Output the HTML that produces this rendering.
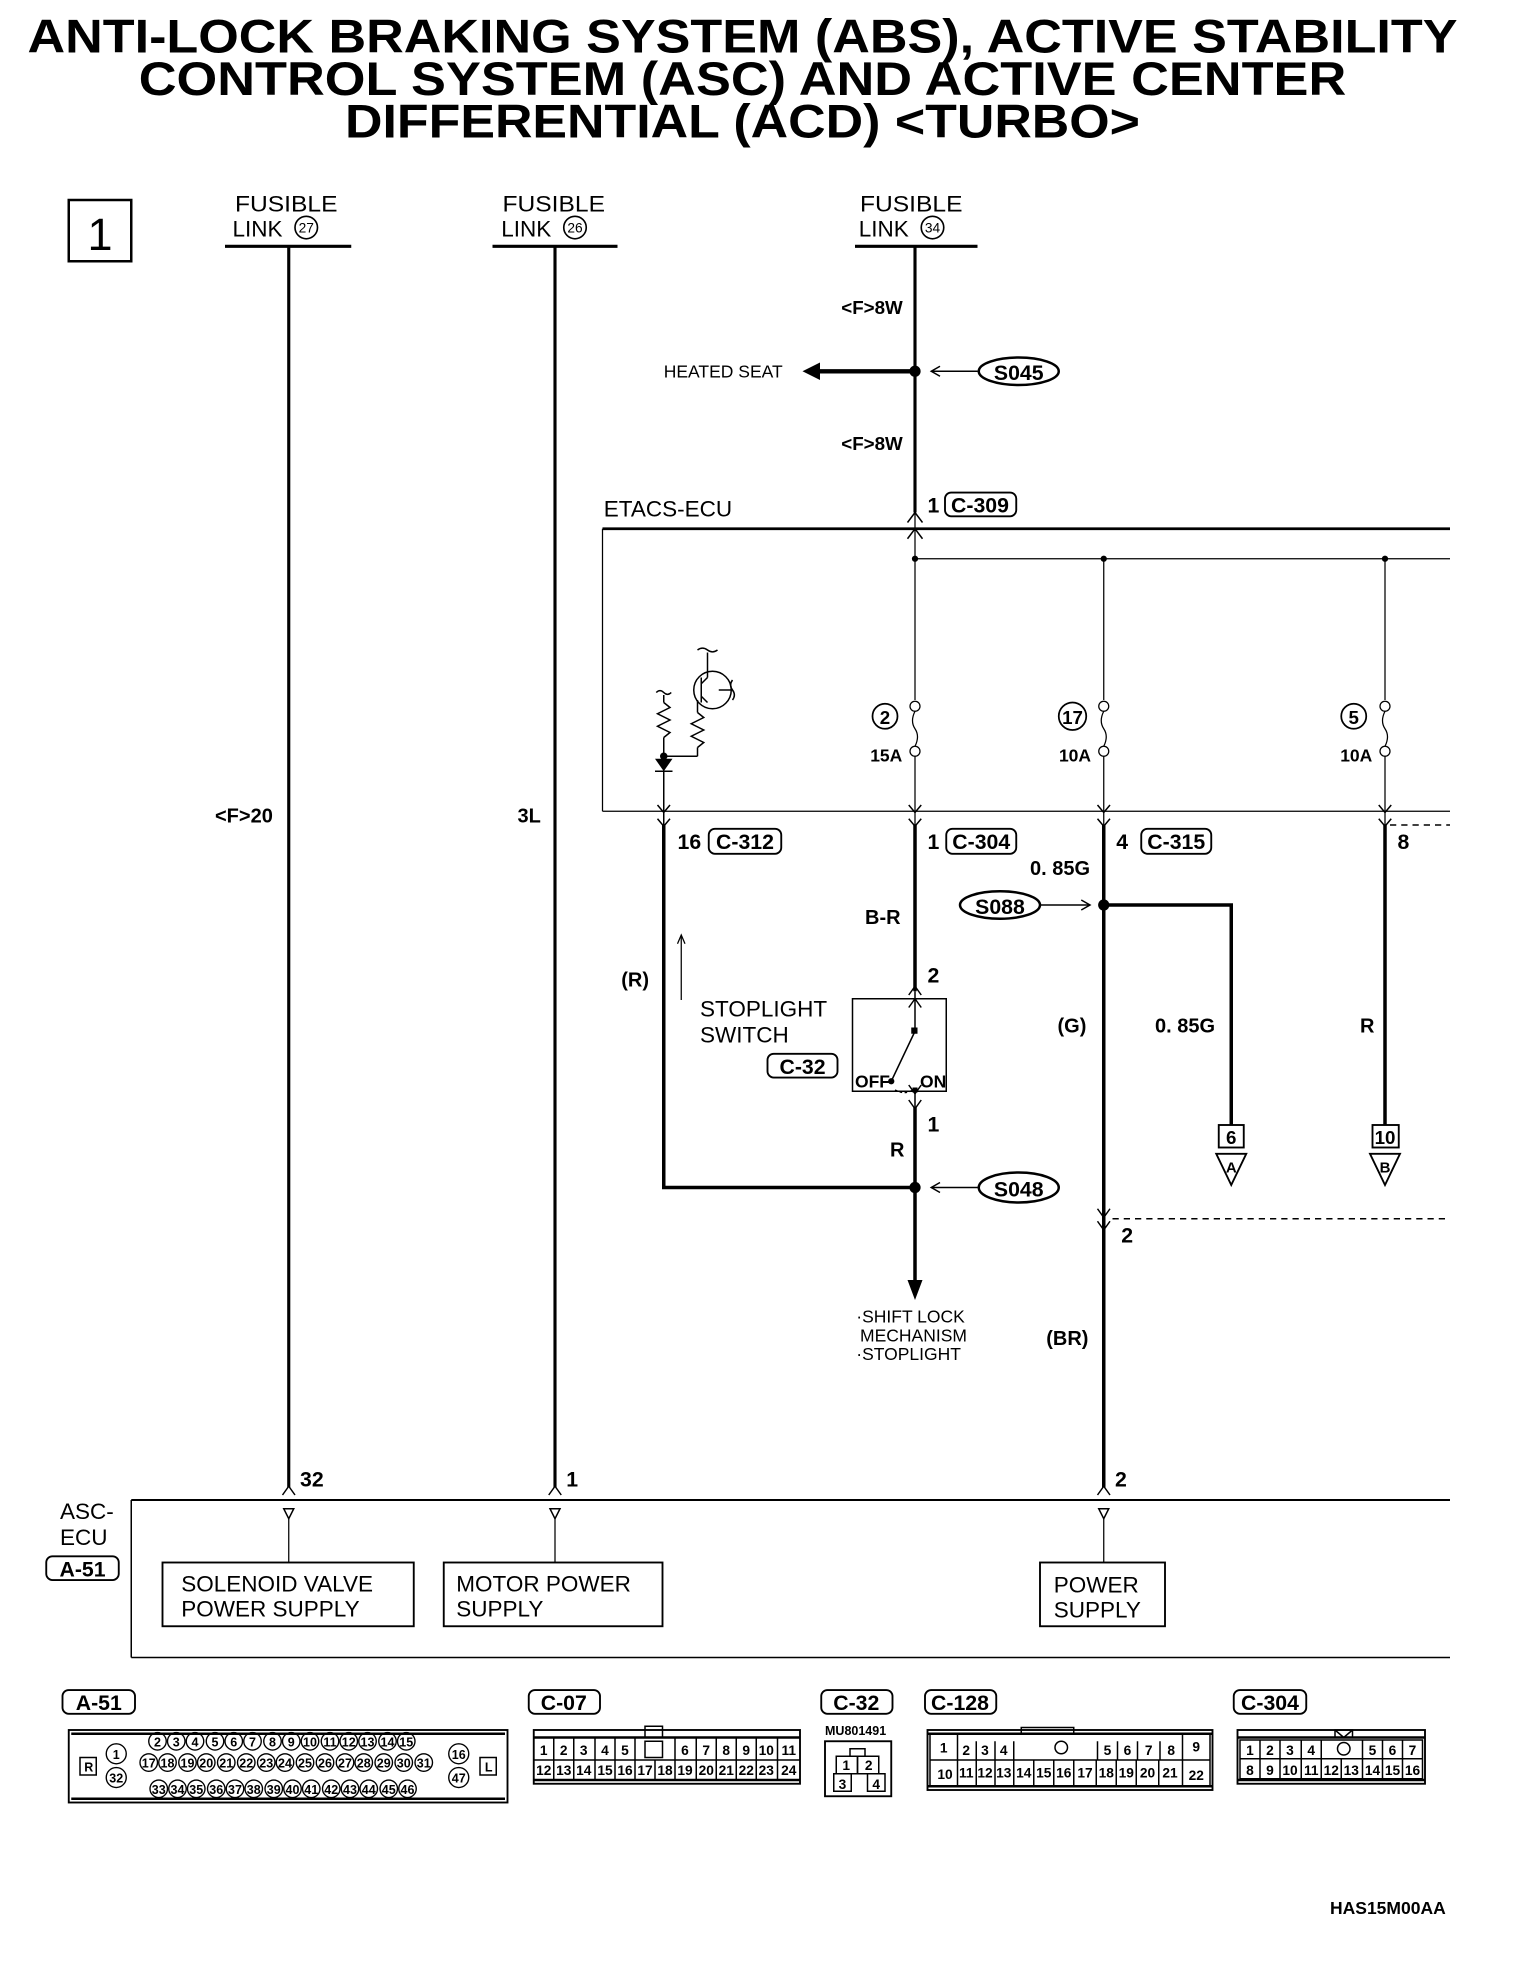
<!DOCTYPE html>
<html><head><meta charset="utf-8">
<style>
html,body{margin:0;padding:0;background:#fff;}
svg{display:block;}
text{font-family:"Liberation Sans",sans-serif;fill:#000;}
.b{font-weight:bold;}
</style></head><body>
<svg width="1520" height="1968" viewBox="0 0 1216 1574.4" xmlns="http://www.w3.org/2000/svg">
<g stroke="#000" fill="none">
<!-- title -->
</g>
<g class="b" font-weight="bold" font-size="38" text-anchor="middle">
<text x="594" y="42" textLength="1144" lengthAdjust="spacingAndGlyphs">ANTI-LOCK BRAKING SYSTEM (ABS), ACTIVE STABILITY</text>
<text x="594" y="76" textLength="966" lengthAdjust="spacingAndGlyphs">CONTROL SYSTEM (ASC) AND ACTIVE CENTER</text>
<text x="594" y="110" textLength="636" lengthAdjust="spacingAndGlyphs">DIFFERENTIAL (ACD) &lt;TURBO&gt;</text>
</g>

<!-- box 1 -->
<rect x="55" y="160" width="50" height="49" fill="none" stroke="#000" stroke-width="2"/>
<text x="80" y="200" font-size="36" text-anchor="middle">1</text>

<!-- fusible links -->
<g font-size="18">
<text x="188" y="169" textLength="82" lengthAdjust="spacingAndGlyphs">FUSIBLE</text>
<text x="186" y="189">LINK</text>
<text x="402" y="169" textLength="82" lengthAdjust="spacingAndGlyphs">FUSIBLE</text>
<text x="401" y="189">LINK</text>
<text x="688" y="169" textLength="82" lengthAdjust="spacingAndGlyphs">FUSIBLE</text>
<text x="687" y="189">LINK</text>
</g>
<g fill="none" stroke="#000" stroke-width="1.3">
<circle cx="245" cy="182" r="9"/><circle cx="460" cy="182" r="9"/><circle cx="746" cy="182" r="9"/>
</g>
<g font-size="11" text-anchor="middle"><text x="245" y="186">27</text><text x="460" y="186">26</text><text x="746" y="186">34</text></g>
<g stroke="#000" stroke-width="2.5">
<line x1="180" y1="197" x2="281" y2="197"/><line x1="394" y1="197" x2="494" y2="197"/><line x1="684" y1="197" x2="782" y2="197"/>
</g>

<!-- vertical wires -->
<g stroke="#000" stroke-width="2.5" fill="none">
<line x1="231" y1="197" x2="231" y2="1190"/>
<line x1="444" y1="197" x2="444" y2="1190"/>
<line x1="732" y1="197" x2="732" y2="410"/>
<line x1="732" y1="297" x2="655" y2="297" stroke-width="3.5"/>
</g>
<polygon points="642,297 656,290 656,304" fill="#000"/>
<circle cx="732" cy="297" r="4.5" fill="#000"/>
<g font-size="15" class="b"><text x="673" y="251" font-weight="bold">&lt;F&gt;8W</text><text x="673" y="360" font-weight="bold">&lt;F&gt;8W</text></g>
<text x="531" y="302" font-size="14">HEATED SEAT</text>
<line x1="782" y1="297" x2="745" y2="297" stroke="#000" stroke-width="1.2"/>
<polyline points="752,293 745,297 752,301" fill="none" stroke="#000" stroke-width="1.2"/>
<ellipse cx="815" cy="297" rx="32" ry="11" fill="none" stroke="#000" stroke-width="2"/>
<text x="815" y="304" font-size="17" text-anchor="middle" font-weight="bold">S045</text>

<!-- ETACS -->
<text x="483" y="413" font-size="18">ETACS-ECU</text>
<text x="742" y="410" font-size="17" font-weight="bold">1</text>
<rect x="756" y="394" width="57" height="19" rx="5" fill="none" stroke="#000" stroke-width="1.5"/>
<text x="784" y="410" font-size="17" text-anchor="middle" font-weight="bold">C-309</text>
<g stroke="#000" fill="none">
<line x1="482" y1="423" x2="1160" y2="423" stroke-width="2.2"/>
<line x1="482" y1="423" x2="482" y2="649" stroke-width="1"/>
<line x1="482" y1="649" x2="1160" y2="649" stroke-width="1"/>
<polyline points="726,418 732,410 738,418" stroke-width="1.2"/>
<polyline points="726,431 732,423 738,431" stroke-width="1.2"/>
<line x1="732" y1="410" x2="732" y2="560" stroke-width="1"/>
<line x1="732" y1="447" x2="1160" y2="447" stroke-width="1"/>
<line x1="883" y1="447" x2="883" y2="560" stroke-width="1"/>
<line x1="1108" y1="447" x2="1108" y2="560" stroke-width="1"/>
</g>
<g fill="#000"><circle cx="732" cy="447" r="2.5"/><circle cx="883" cy="447" r="2.5"/><circle cx="1108" cy="447" r="2.5"/></g>
<!-- fuses -->
<g stroke="#000" fill="none" stroke-width="1">
<g id="f1"><circle cx="732" cy="565" r="4"/><path d="M732,569 q-4,8 0,14 q4,6 0,14"/><circle cx="732" cy="601" r="4"/><line x1="732" y1="605" x2="732" y2="660"/></g>
<circle cx="883" cy="565" r="4"/><path d="M883,569 q-4,8 0,14 q4,6 0,14"/><circle cx="883" cy="601" r="4"/><line x1="883" y1="605" x2="883" y2="660"/>
<circle cx="1108" cy="565" r="4"/><path d="M1108,569 q-4,8 0,14 q4,6 0,14"/><circle cx="1108" cy="601" r="4"/><line x1="1108" y1="605" x2="1108" y2="660"/>
<circle cx="708" cy="573" r="10" stroke-width="1.4"/><circle cx="858" cy="573" r="11" stroke-width="1.4"/><circle cx="1083" cy="573" r="10" stroke-width="1.4"/>
</g>
<g font-size="15" text-anchor="middle" font-weight="bold">
<text x="708" y="579">2</text><text x="858" y="579">17</text><text x="1083" y="579">5</text>
<text x="709" y="609" font-size="14">15A</text><text x="860" y="609" font-size="14">10A</text><text x="1085" y="609" font-size="14">10A</text>
</g>
<!-- internal transistor/resistors -->
<g stroke="#000" fill="none" stroke-width="1.2">
<circle cx="570" cy="552" r="15"/>
<line x1="561" y1="542" x2="561" y2="562"/>
<line x1="561" y1="547" x2="566" y2="542"/>
<line x1="561" y1="557" x2="566" y2="562"/>
<line x1="566" y1="542" x2="566" y2="522"/>
<path d="M558,520 q4,-3 8,0 q4,3 8,0"/>
<line x1="575" y1="552" x2="586" y2="552"/>
<path d="M586,544 q-3,4 0,8 q3,4 0,8"/>
<line x1="558" y1="560" x2="558" y2="570"/>
<polyline points="558,570 563,574 553,579 563,584 553,589 563,594 558,598"/>
<line x1="558" y1="598" x2="558" y2="605"/>
<line x1="558" y1="605" x2="531" y2="605"/>
<path d="M525,554 q3,-3 6,0 q3,3 6,0"/>
<line x1="531" y1="556" x2="531" y2="562"/>
<polyline points="531,562 536,566 526,571 536,576 526,581 536,586 531,590"/>
<line x1="531" y1="590" x2="531" y2="660"/>
<line x1="524" y1="617" x2="538" y2="617"/>
</g>
<circle cx="531" cy="605" r="3" fill="#000"/>
<polygon points="524,607 538,607 531,617" fill="#000"/>
<!-- bottom connector chevrons at y 649/660 -->
<g stroke="#000" fill="none" stroke-width="1.2">
<polyline points="526,644 531,650 536,644"/><polyline points="526,655 531,661 536,655"/>
<polyline points="727,644 732,650 737,644"/><polyline points="727,655 732,661 737,655"/>
<polyline points="878,644 883,650 888,644"/><polyline points="878,655 883,661 888,655"/>
<polyline points="1103,644 1108,650 1113,644"/><polyline points="1103,655 1108,661 1113,655"/>
</g>
<line x1="1112" y1="660" x2="1160" y2="660" stroke="#000" stroke-width="1.2" stroke-dasharray="5,4"/>
<!-- wires lower -->
<g stroke="#000" fill="none" stroke-width="2.8">
<polyline points="531,660 531,950 732,950"/>
<line x1="732" y1="660" x2="732" y2="793"/>
<line x1="732" y1="886" x2="732" y2="1025"/>
<polyline points="883,660 883,1190"/>
<polyline points="883,724 985,724 985,900"/>
<line x1="1108" y1="660" x2="1108" y2="900"/>
</g>
<polygon points="726,1024 738,1024 732,1040" fill="#000"/>
<circle cx="732" cy="950" r="4.5" fill="#000"/>
<circle cx="883" cy="724" r="4.5" fill="#000"/>
<g font-size="17" font-weight="bold">
<text x="542" y="679">16</text><text x="742" y="679">1</text><text x="893" y="679">4</text><text x="1118" y="679">8</text>
</g>
<g fill="none" stroke="#000" stroke-width="1.5">
<rect x="567" y="663" width="58" height="20" rx="5"/><rect x="757" y="663" width="56" height="20" rx="5"/><rect x="913" y="663" width="56" height="20" rx="5"/>
</g>
<g font-size="17" text-anchor="middle" font-weight="bold">
<text x="596" y="679">C-312</text><text x="785" y="679">C-304</text><text x="941" y="679">C-315</text>
</g>
<text x="824" y="700" font-size="16" font-weight="bold">0. 85G</text>
<ellipse cx="800" cy="724" rx="32" ry="11" fill="none" stroke="#000" stroke-width="2"/>
<text x="800" y="731" font-size="17" text-anchor="middle" font-weight="bold">S088</text>
<line x1="832" y1="724" x2="872" y2="724" stroke="#000" stroke-width="1.2"/>
<polyline points="865,720 872,724 865,728" fill="none" stroke="#000" stroke-width="1.2"/>
<text x="692" y="739" font-size="16" font-weight="bold">B-R</text>
<text x="742" y="786" font-size="17" font-weight="bold">2</text>
<!-- stoplight switch -->
<rect x="682" y="799" width="75" height="74" fill="none" stroke="#000" stroke-width="1.2"/>
<g stroke="#000" fill="none" stroke-width="1.2">
<line x1="732" y1="793" x2="732" y2="825"/>
<polyline points="727,796 732,789 737,796"/><polyline points="727,806 732,799 737,806"/>
<line x1="732" y1="825" x2="713" y2="865"/>
<path d="M716,872 q8,4 14,0" stroke-dasharray="2,2"/>
<line x1="732" y1="873" x2="732" y2="886"/>
<polyline points="727,868 732,875 737,868"/><polyline points="727,880 732,887 737,880"/>
</g>
<rect x="729" y="822" width="5" height="5" fill="#000"/>
<circle cx="713" cy="865" r="2.5" fill="#000"/>
<rect x="730" y="870" width="4" height="4" fill="#000"/>
<text x="684" y="870" font-size="14" font-weight="bold">OFF</text>
<text x="736" y="870" font-size="14" font-weight="bold">ON</text>
<text x="560" y="813" font-size="18">STOPLIGHT</text>
<text x="560" y="834" font-size="18">SWITCH</text>
<rect x="614" y="843" width="56" height="19" rx="5" fill="none" stroke="#000" stroke-width="1.5"/>
<text x="642" y="859" font-size="17" text-anchor="middle" font-weight="bold">C-32</text>
<text x="742" y="905" font-size="17" font-weight="bold">1</text>
<text x="712" y="925" font-size="16" font-weight="bold">R</text>
<text x="497" y="789" font-size="16" font-weight="bold">(R)</text>
<line x1="545" y1="800" x2="545" y2="748" stroke="#000" stroke-width="1"/>
<polyline points="542,755 545,748 548,755" fill="none" stroke="#000" stroke-width="1"/>
<ellipse cx="815" cy="950" rx="32" ry="12" fill="none" stroke="#000" stroke-width="2"/>
<text x="815" y="957" font-size="17" text-anchor="middle" font-weight="bold">S048</text>
<line x1="782" y1="950" x2="745" y2="950" stroke="#000" stroke-width="1.2"/>
<polyline points="752,946 745,950 752,954" fill="none" stroke="#000" stroke-width="1.2"/>
<g font-size="14">
<text x="685" y="1058">·SHIFT LOCK</text><text x="688" y="1073">MECHANISM</text><text x="685" y="1088">·STOPLIGHT</text>
</g>
<text x="846" y="826" font-size="16" font-weight="bold">(G)</text>
<text x="924" y="826" font-size="16" font-weight="bold">0. 85G</text>
<text x="1088" y="826" font-size="16" font-weight="bold">R</text>
<!-- terminals A/B -->
<g fill="none" stroke="#000" stroke-width="1.5">
<rect x="975" y="900" width="20" height="18"/><polygon points="973,923 997,923 985,948"/>
<rect x="1098" y="900" width="21" height="18"/><polygon points="1096,923 1120,923 1108,948"/>
</g>
<g font-size="15" text-anchor="middle" font-weight="bold">
<text x="985" y="915">6</text><text x="985" y="938" font-size="12">A</text>
<text x="1108" y="915">10</text><text x="1108" y="938" font-size="12">B</text>
</g>
<g stroke="#000" fill="none" stroke-width="1.2">
<polyline points="878,967 883,974 888,967"/><polyline points="878,977 883,984 888,977"/>
</g>
<line x1="890" y1="975" x2="1160" y2="975" stroke="#000" stroke-width="1.2" stroke-dasharray="5,4"/>
<text x="897" y="994" font-size="17" font-weight="bold">2</text>
<text x="837" y="1076" font-size="16" font-weight="bold">(BR)</text>
<text x="172" y="658" font-size="16" font-weight="bold">&lt;F&gt;20</text>
<text x="414" y="658" font-size="16" font-weight="bold">3L</text>
<!-- ASC-ECU -->
<g font-size="17" font-weight="bold"><text x="240" y="1189">32</text><text x="453" y="1189">1</text><text x="892" y="1189">2</text></g>
<g stroke="#000" fill="none" stroke-width="1.2">
<polyline points="226,1196 231,1189 236,1196"/><polyline points="439,1196 444,1189 449,1196"/><polyline points="878,1196 883,1189 888,1196"/>
<line x1="105" y1="1200" x2="1160" y2="1200" stroke-width="1.6"/>
<line x1="105" y1="1200" x2="105" y2="1326"/>
<line x1="105" y1="1326" x2="1160" y2="1326"/>
<polygon points="227,1207 235,1207 231,1215"/><polygon points="440,1207 448,1207 444,1215"/><polygon points="879,1207 887,1207 883,1215"/>
<line x1="231" y1="1215" x2="231" y2="1250" stroke-width="1"/><line x1="444" y1="1215" x2="444" y2="1250" stroke-width="1"/><line x1="883" y1="1215" x2="883" y2="1250" stroke-width="1"/>
<rect x="130" y="1250" width="201" height="51" stroke-width="1.5"/>
<rect x="355" y="1250" width="175" height="51" stroke-width="1.5"/>
<rect x="832" y="1250" width="100" height="51" stroke-width="1.5"/>
</g>
<g font-size="18">
<text x="48" y="1215">ASC-</text><text x="48" y="1236">ECU</text>
<text x="145" y="1273">SOLENOID VALVE</text><text x="145" y="1293">POWER SUPPLY</text>
<text x="365" y="1273">MOTOR POWER</text><text x="365" y="1293">SUPPLY</text>
<text x="843" y="1274">POWER</text><text x="843" y="1294">SUPPLY</text>
</g>
<rect x="37" y="1245" width="58" height="19" rx="5" fill="none" stroke="#000" stroke-width="1.5"/>
<text x="66" y="1261" font-size="17" text-anchor="middle" font-weight="bold">A-51</text>

<!-- bottom connectors labels -->
<g fill="none" stroke="#000" stroke-width="1.5">
<rect x="50" y="1352" width="58" height="19" rx="5"/><rect x="423" y="1352" width="57" height="19" rx="5"/>
<rect x="657" y="1352" width="57" height="19" rx="5"/><rect x="740" y="1352" width="57" height="19" rx="5"/>
<rect x="987" y="1352" width="58" height="19" rx="5"/>
</g>
<g font-size="17" text-anchor="middle" font-weight="bold">
<text x="79" y="1368">A-51</text><text x="451" y="1368">C-07</text><text x="685" y="1368">C-32</text><text x="768" y="1368">C-128</text><text x="1016" y="1368">C-304</text>
</g>
<text x="660" y="1388" font-size="10" font-weight="bold">MU801491</text>
<text x="1064" y="1531" font-size="14" font-weight="bold">HAS15M00AA</text>

<!-- A-51 connector -->
<g fill="none" stroke="#000">
<rect x="55" y="1384" width="351" height="58" stroke-width="1.5"/>
<line x1="57" y1="1387" x2="404" y2="1387" stroke-width="2"/>
<line x1="57" y1="1439" x2="404" y2="1439" stroke-width="2"/>
<rect x="64" y="1406" width="13" height="14" stroke-width="1.2"/>
<rect x="384" y="1406" width="13" height="14" stroke-width="1.2"/>
<g stroke-width="1.1">
<circle cx="93" cy="1403" r="8"/><circle cx="93" cy="1422" r="8"/><circle cx="367" cy="1403" r="8"/><circle cx="367" cy="1422" r="8"/>
<circle cx="126" cy="1393" r="7"/><circle cx="141" cy="1393" r="7"/><circle cx="156" cy="1393" r="7"/><circle cx="172" cy="1393" r="7"/><circle cx="187" cy="1393" r="7"/><circle cx="202" cy="1393" r="7"/><circle cx="218" cy="1393" r="7"/><circle cx="233" cy="1393" r="7"/><circle cx="248" cy="1393" r="7"/><circle cx="264" cy="1393" r="7"/><circle cx="279" cy="1393" r="7"/><circle cx="294" cy="1393" r="7"/><circle cx="310" cy="1393" r="7"/><circle cx="325" cy="1393" r="7"/>
<circle cx="119" cy="1410" r="7"/><circle cx="134" cy="1410" r="7"/><circle cx="150" cy="1410" r="7"/><circle cx="165" cy="1410" r="7"/><circle cx="181" cy="1410" r="7"/><circle cx="197" cy="1410" r="7"/><circle cx="213" cy="1410" r="7"/><circle cx="228" cy="1410" r="7"/><circle cx="244" cy="1410" r="7"/><circle cx="260" cy="1410" r="7"/><circle cx="276" cy="1410" r="7"/><circle cx="291" cy="1410" r="7"/><circle cx="307" cy="1410" r="7"/><circle cx="323" cy="1410" r="7"/><circle cx="339" cy="1410" r="7"/>
<circle cx="127" cy="1431" r="7"/><circle cx="142" cy="1431" r="7"/><circle cx="157" cy="1431" r="7"/><circle cx="173" cy="1431" r="7"/><circle cx="188" cy="1431" r="7"/><circle cx="203" cy="1431" r="7"/><circle cx="219" cy="1431" r="7"/><circle cx="234" cy="1431" r="7"/><circle cx="249" cy="1431" r="7"/><circle cx="265" cy="1431" r="7"/><circle cx="280" cy="1431" r="7"/><circle cx="295" cy="1431" r="7"/><circle cx="311" cy="1431" r="7"/><circle cx="326" cy="1431" r="7"/>
</g></g>
<g font-size="10" font-weight="bold" text-anchor="middle">
<text x="71" y="1417">R</text><text x="391" y="1417">L</text>
<text x="93" y="1407">1</text><text x="93" y="1426">32</text><text x="367" y="1407">16</text><text x="367" y="1426">47</text>
<text x="126" y="1397">2</text><text x="141" y="1397">3</text><text x="156" y="1397">4</text><text x="172" y="1397">5</text><text x="187" y="1397">6</text><text x="202" y="1397">7</text><text x="218" y="1397">8</text><text x="233" y="1397">9</text><text x="248" y="1397">10</text><text x="264" y="1397">11</text><text x="279" y="1397">12</text><text x="294" y="1397">13</text><text x="310" y="1397">14</text><text x="325" y="1397">15</text>
<text x="119" y="1414">17</text><text x="134" y="1414">18</text><text x="150" y="1414">19</text><text x="165" y="1414">20</text><text x="181" y="1414">21</text><text x="197" y="1414">22</text><text x="213" y="1414">23</text><text x="228" y="1414">24</text><text x="244" y="1414">25</text><text x="260" y="1414">26</text><text x="276" y="1414">27</text><text x="291" y="1414">28</text><text x="307" y="1414">29</text><text x="323" y="1414">30</text><text x="339" y="1414">31</text>
<text x="127" y="1435">33</text><text x="142" y="1435">34</text><text x="157" y="1435">35</text><text x="173" y="1435">36</text><text x="188" y="1435">37</text><text x="203" y="1435">38</text><text x="219" y="1435">39</text><text x="234" y="1435">40</text><text x="249" y="1435">41</text><text x="265" y="1435">42</text><text x="280" y="1435">43</text><text x="295" y="1435">44</text><text x="311" y="1435">45</text><text x="326" y="1435">46</text>
</g>

<!-- C-07 -->
<g fill="none" stroke="#000" stroke-width="1.2">
<rect x="427" y="1384" width="213" height="43" stroke-width="1.5"/>
<line x1="427" y1="1390" x2="640" y2="1390" stroke-width="2"/>
<line x1="427" y1="1408" x2="640" y2="1408"/>
<line x1="427" y1="1424" x2="640" y2="1424" stroke-width="2"/>
<rect x="516" y="1381" width="14" height="9"/>
<rect x="516" y="1393" width="14" height="13"/>
<path d="M443,1390v18 M459,1390v18 M476,1390v18 M492,1390v18 M508,1390v18 M540,1390v18 M557,1390v18 M573,1390v18 M589,1390v18 M605,1390v18 M622,1390v18"/>
<path d="M443,1408v16 M459,1408v16 M476,1408v16 M492,1408v16 M508,1408v16 M524,1408v16 M540,1408v16 M557,1408v16 M573,1408v16 M589,1408v16 M605,1408v16 M622,1408v16"/>
</g>
<g font-size="11" font-weight="bold" text-anchor="middle">
<text x="435" y="1404">1</text><text x="451" y="1404">2</text><text x="467" y="1404">3</text><text x="484" y="1404">4</text><text x="500" y="1404">5</text><text x="548" y="1404">6</text><text x="565" y="1404">7</text><text x="581" y="1404">8</text><text x="597" y="1404">9</text><text x="613" y="1404">10</text><text x="631" y="1404">11</text>
<text x="435" y="1420">12</text><text x="451" y="1420">13</text><text x="467" y="1420">14</text><text x="484" y="1420">15</text><text x="500" y="1420">16</text><text x="516" y="1420">17</text><text x="532" y="1420">18</text><text x="548" y="1420">19</text><text x="565" y="1420">20</text><text x="581" y="1420">21</text><text x="597" y="1420">22</text><text x="613" y="1420">23</text><text x="631" y="1420">24</text>
</g>

<!-- C-32 -->
<g fill="none" stroke="#000" stroke-width="1.2">
<rect x="660" y="1393" width="53" height="44" stroke-width="1.5"/>
<path d="M680,1405 v-6 h12 v6"/>
<rect x="669" y="1405" width="17" height="14"/><rect x="686" y="1405" width="17" height="14"/>
<rect x="667" y="1419" width="14" height="14"/><rect x="694" y="1419" width="14" height="14"/>
</g>
<g font-size="11" font-weight="bold" text-anchor="middle">
<text x="677" y="1416">1</text><text x="695" y="1416">2</text><text x="674" y="1431">3</text><text x="701" y="1431">4</text>
</g>

<!-- C-128 -->
<g fill="none" stroke="#000" stroke-width="1.2">
<rect x="742" y="1384" width="228" height="48" stroke-width="1.5"/>
<line x1="742" y1="1387" x2="970" y2="1387" stroke-width="2"/>
<line x1="742" y1="1429" x2="970" y2="1429" stroke-width="2"/>
<rect x="817" y="1382" width="42" height="5"/>
<rect x="744" y="1387" width="22" height="42"/>
<rect x="946" y="1387" width="22" height="42"/>
<line x1="766" y1="1408" x2="946" y2="1408"/>
<line x1="744" y1="1408" x2="766" y2="1408"/><line x1="946" y1="1408" x2="968" y2="1408"/>
<circle cx="849" cy="1398" r="5"/>
<path d="M781,1393v15 M796,1393v15 M811,1393v15 M878,1393v15 M894,1393v15 M910,1393v15 M928,1393v15"/>
<path d="M781,1408v21 M796,1408v21 M811,1408v21 M827,1408v21 M843,1408v21 M859,1408v21 M877,1408v21 M893,1408v21 M909,1408v21 M927,1408v21"/>
</g>
<g font-size="11" font-weight="bold" text-anchor="middle">
<text x="755" y="1402">1</text><text x="773" y="1404">2</text><text x="788" y="1404">3</text><text x="803" y="1404">4</text>
<text x="886" y="1404">5</text><text x="902" y="1404">6</text><text x="919" y="1404">7</text><text x="937" y="1404">8</text><text x="957" y="1401">9</text>
<text x="756" y="1423">10</text><text x="773" y="1422">11</text><text x="788" y="1422">12</text><text x="803" y="1422">13</text><text x="819" y="1422">14</text><text x="835" y="1422">15</text><text x="851" y="1422">16</text><text x="868" y="1422">17</text><text x="885" y="1422">18</text><text x="901" y="1422">19</text><text x="918" y="1422">20</text><text x="936" y="1422">21</text><text x="957" y="1424">22</text>
</g>

<!-- C-304 -->
<g fill="none" stroke="#000" stroke-width="1.2">
<rect x="990" y="1384" width="150" height="43" stroke-width="1.5"/>
<line x1="990" y1="1390" x2="1140" y2="1390" stroke-width="2"/>
<line x1="990" y1="1424" x2="1140" y2="1424" stroke-width="2"/>
<rect x="1068" y="1384" width="14" height="6"/><path d="M1068,1384 l7,6 l7,-6"/>
<rect x="992" y="1392" width="146" height="31"/>
<line x1="992" y1="1407" x2="1138" y2="1407"/>
<circle cx="1075" cy="1399" r="5"/>
<path d="M1008,1392v15 M1024,1392v15 M1041,1392v15 M1057,1392v15 M1090,1392v15 M1106,1392v15 M1122,1392v15"/>
<path d="M1008,1407v16 M1024,1407v16 M1041,1407v16 M1057,1407v16 M1073,1407v16 M1090,1407v16 M1106,1407v16 M1122,1407v16"/>
</g>
<g font-size="11" font-weight="bold" text-anchor="middle">
<text x="1000" y="1404">1</text><text x="1016" y="1404">2</text><text x="1032" y="1404">3</text><text x="1049" y="1404">4</text><text x="1098" y="1404">5</text><text x="1114" y="1404">6</text><text x="1130" y="1404">7</text>
<text x="1000" y="1420">8</text><text x="1016" y="1420">9</text><text x="1032" y="1420">10</text><text x="1049" y="1420">11</text><text x="1065" y="1420">12</text><text x="1081" y="1420">13</text><text x="1098" y="1420">14</text><text x="1114" y="1420">15</text><text x="1130" y="1420">16</text>
</g>
</svg>
</body></html>
